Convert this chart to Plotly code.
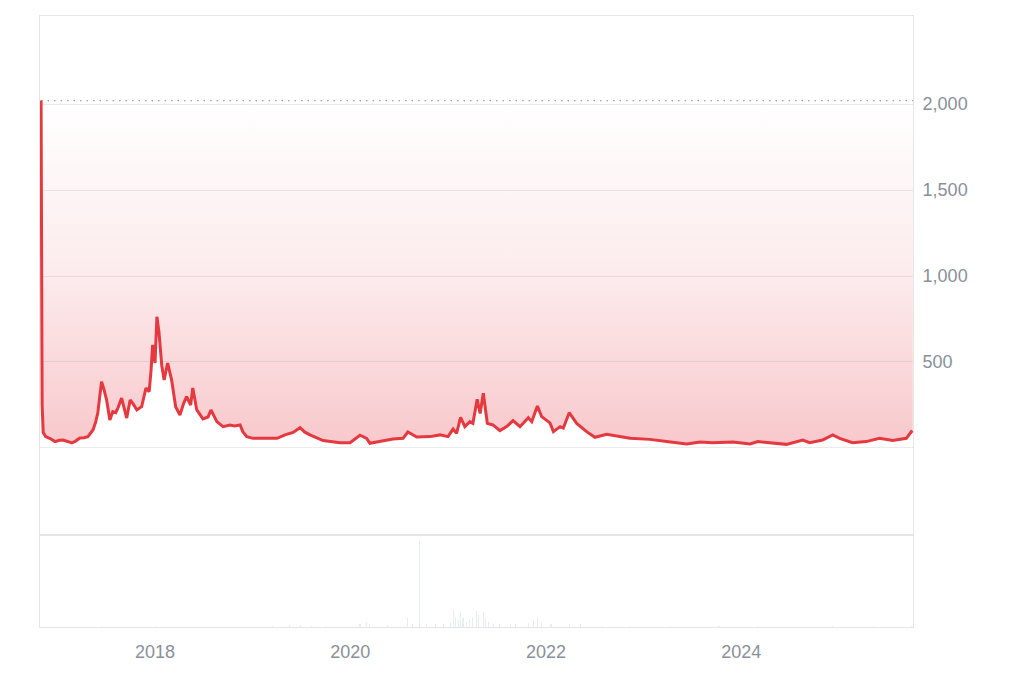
import plotly.graph_objects as go
from plotly.subplots import make_subplots

# ---- data ----
price_dates = ["2016-11-01","2016-11-05","2016-11-09","2016-11-18","2016-12-05","2016-12-23","2017-01-08","2017-01-22","2017-02-08","2017-02-24",
"2017-03-10","2017-03-26","2017-04-10","2017-04-25","2017-05-14","2017-05-24","2017-06-01","2017-06-08","2017-06-15","2017-06-24",
"2017-07-04","2017-07-16","2017-07-27","2017-08-07","2017-08-15","2017-08-29","2017-09-17","2017-09-30","2017-10-12","2017-10-25",
"2017-11-12","2017-11-28","2017-12-10","2017-12-17","2017-12-23","2018-01-01","2018-01-08","2018-01-16","2018-01-26","2018-02-04",
"2018-02-17","2018-03-04","2018-03-19","2018-04-04","2018-04-18","2018-04-29","2018-05-14","2018-05-22","2018-06-06","2018-06-29",
"2018-07-18","2018-07-29","2018-08-20","2018-09-12","2018-10-08","2018-10-25","2018-11-15","2018-11-25","2018-12-10","2019-01-02",
"2019-02-16","2019-04-02","2019-05-02","2019-06-01","2019-06-27","2019-07-15","2019-08-03","2019-09-21","2019-11-23","2019-12-31",
"2020-02-06","2020-03-02","2020-03-14","2020-04-21","2020-06-08","2020-07-16","2020-08-03","2020-09-05","2020-10-25","2020-12-01",
"2020-12-31","2021-01-19","2021-02-01","2021-02-16","2021-03-04","2021-03-23","2021-04-03","2021-04-19","2021-04-30","2021-05-12",
"2021-05-27","2021-06-17","2021-07-13","2021-08-07","2021-08-31","2021-09-26","2021-10-27","2021-11-09","2021-11-30","2021-12-16",
"2022-01-16","2022-01-29","2022-02-23","2022-03-07","2022-03-29","2022-04-26","2022-06-02","2022-07-03","2022-08-16","2022-11-11",
"2023-01-25","2023-03-28","2023-06-11","2023-07-31","2023-09-15","2023-12-01","2024-02-03","2024-03-03","2024-05-01","2024-06-18",
"2024-08-18","2024-09-13","2024-10-31","2024-12-08","2025-01-03","2025-02-20","2025-04-12","2025-06-01","2025-07-20","2025-09-09",
"2025-09-28","2025-10-03"]
price_values = [2020,250,90,66,55,37,45,46,38,29,
40,58,60,66,105,150,203,300,386,340,
279,163,211,205,232,290,174,279,255,221,
240,349,327,450,599,494,763,669,480,395,
494,395,240,192,260,298,250,349,221,169,
180,221,153,124,134,128,134,95,66,56,
56,56,76,90,118,92,76,43,31,31,
74,56,27,39,52,56,93,64,66,76,
66,110,85,178,124,153,143,283,201,318,
143,134,101,124,159,124,176,153,244,182,
146,95,124,116,205,143,95,62,79,56,
50,37,23,35,30,35,23,37,28,21,
46,31,46,76,56,31,37,56,43,56,
95,90]

vol_dates = ["2017-06-15","2018-01-08","2019-03-15","2019-05-20","2019-06-27","2019-08-10","2019-10-01",
"2020-02-06","2020-03-01","2020-03-14","2020-05-20","2020-08-03","2020-08-20","2020-09-14","2020-10-10","2020-11-15","2020-12-15",
"2021-01-10","2021-01-19","2021-01-28","2021-02-08","2021-02-16","2021-02-25","2021-03-10","2021-03-23","2021-04-03","2021-04-15",
"2021-04-25","2021-05-12","2021-05-20","2021-06-01","2021-06-20","2021-07-13","2021-08-20","2021-09-10","2021-10-27","2021-11-15",
"2021-11-30","2021-12-16","2022-01-20","2022-03-29","2022-05-10","2022-08-01","2022-11-11","2023-04-10","2023-10-10","2024-03-03",
"2024-12-08","2025-05-10","2025-09-28"]
vol_values = [0.8,1.5,1.5,2,2.5,1.5,1,
3,6,4,2,10,4,100,3,4,3,
6,20,12,8,19,10,6,9,12,19,
14,18,10,6,4,3,3,3,5,8,
12,6,3,4,3,1.5,1,1,0.8,1,
1.5,0.8,1]

x_range = ["2016-10-28", "2025-10-04"]
y_ticks = [0, 500, 1000, 1500, 2000]
y_ticktext = ["", "500", "1,000", "1,500", "2,000"]
x_ticks = ["2018-01-01", "2020-01-01", "2022-01-01", "2024-01-01"]
x_ticktext = ["2018", "2020", "2022", "2024"]

# ---- figure ----
RED = "#e5383f"
GRID = "#ebebeb"
FRAME = "#e6e6e6"
TXT = "#8a909a"
pmax = max(price_values)

fig = make_subplots(rows=2, cols=1, shared_xaxes=True, vertical_spacing=0,
                    row_heights=[0.8494, 0.1506])

fig.add_trace(go.Scatter(x=[price_dates[0], x_range[1]], y=[pmax, pmax], mode="lines",
                         line=dict(color="#9ea3ab", width=1.2, dash="1.5px,5px"),
                         hoverinfo="skip", showlegend=False), row=1, col=1)
fig.add_trace(go.Scatter(x=price_dates, y=price_values, mode="lines",
                         line=dict(color=RED, width=3),
                         fill="tonexty",
                         fillgradient=dict(type="vertical", start=0, stop=pmax,
                                           colorscale=[[0, "rgba(230,57,70,0.28)"],
                                                       [0.5, "rgba(230,57,70,0.10)"],
                                                       [1, "rgba(230,57,70,0.0)"]]),
                         showlegend=False), row=1, col=1)
fig.add_trace(go.Bar(x=vol_dates, y=vol_values, marker=dict(color="rgba(205,215,228,0.45)", line=dict(width=0)),
                     width=4 * 86400000, showlegend=False), row=2, col=1)

font = dict(family="Liberation Sans, Arial, sans-serif", size=18, color=TXT)

# page body has an 8px margin: figure is placed at (8,8)
fig.update_layout(width=1008, height=667, margin=dict(l=32, r=103, t=8, b=48),
                  paper_bgcolor="white", plot_bgcolor="white", font=font, bargap=0)

fig.update_xaxes(range=x_range, type="date", showgrid=False, zeroline=False,
                 showline=True, mirror=True, linecolor=FRAME, linewidth=1)
fig.update_xaxes(showticklabels=False, row=1, col=1)
fig.update_xaxes(tickvals=x_ticks, ticktext=x_ticktext, ticks="outside", ticklen=8,
                 tickcolor="rgba(0,0,0,0)", tickfont=font, row=2, col=1)

fig.update_yaxes(range=[-506, 2512], side="right", tickvals=y_ticks, ticktext=y_ticktext,
                 showgrid=True, gridcolor=GRID, gridwidth=1, zeroline=False,
                 showline=True, mirror=True, linecolor=FRAME,
                 ticks="outside", ticklen=5, tickcolor="rgba(0,0,0,0)", tickfont=font,
                 row=1, col=1)
fig.update_yaxes(range=[0, 107], showticklabels=False, showgrid=False, zeroline=False,
                 showline=True, mirror=True, linecolor=FRAME, row=2, col=1)

fig.write_html("out.html")
